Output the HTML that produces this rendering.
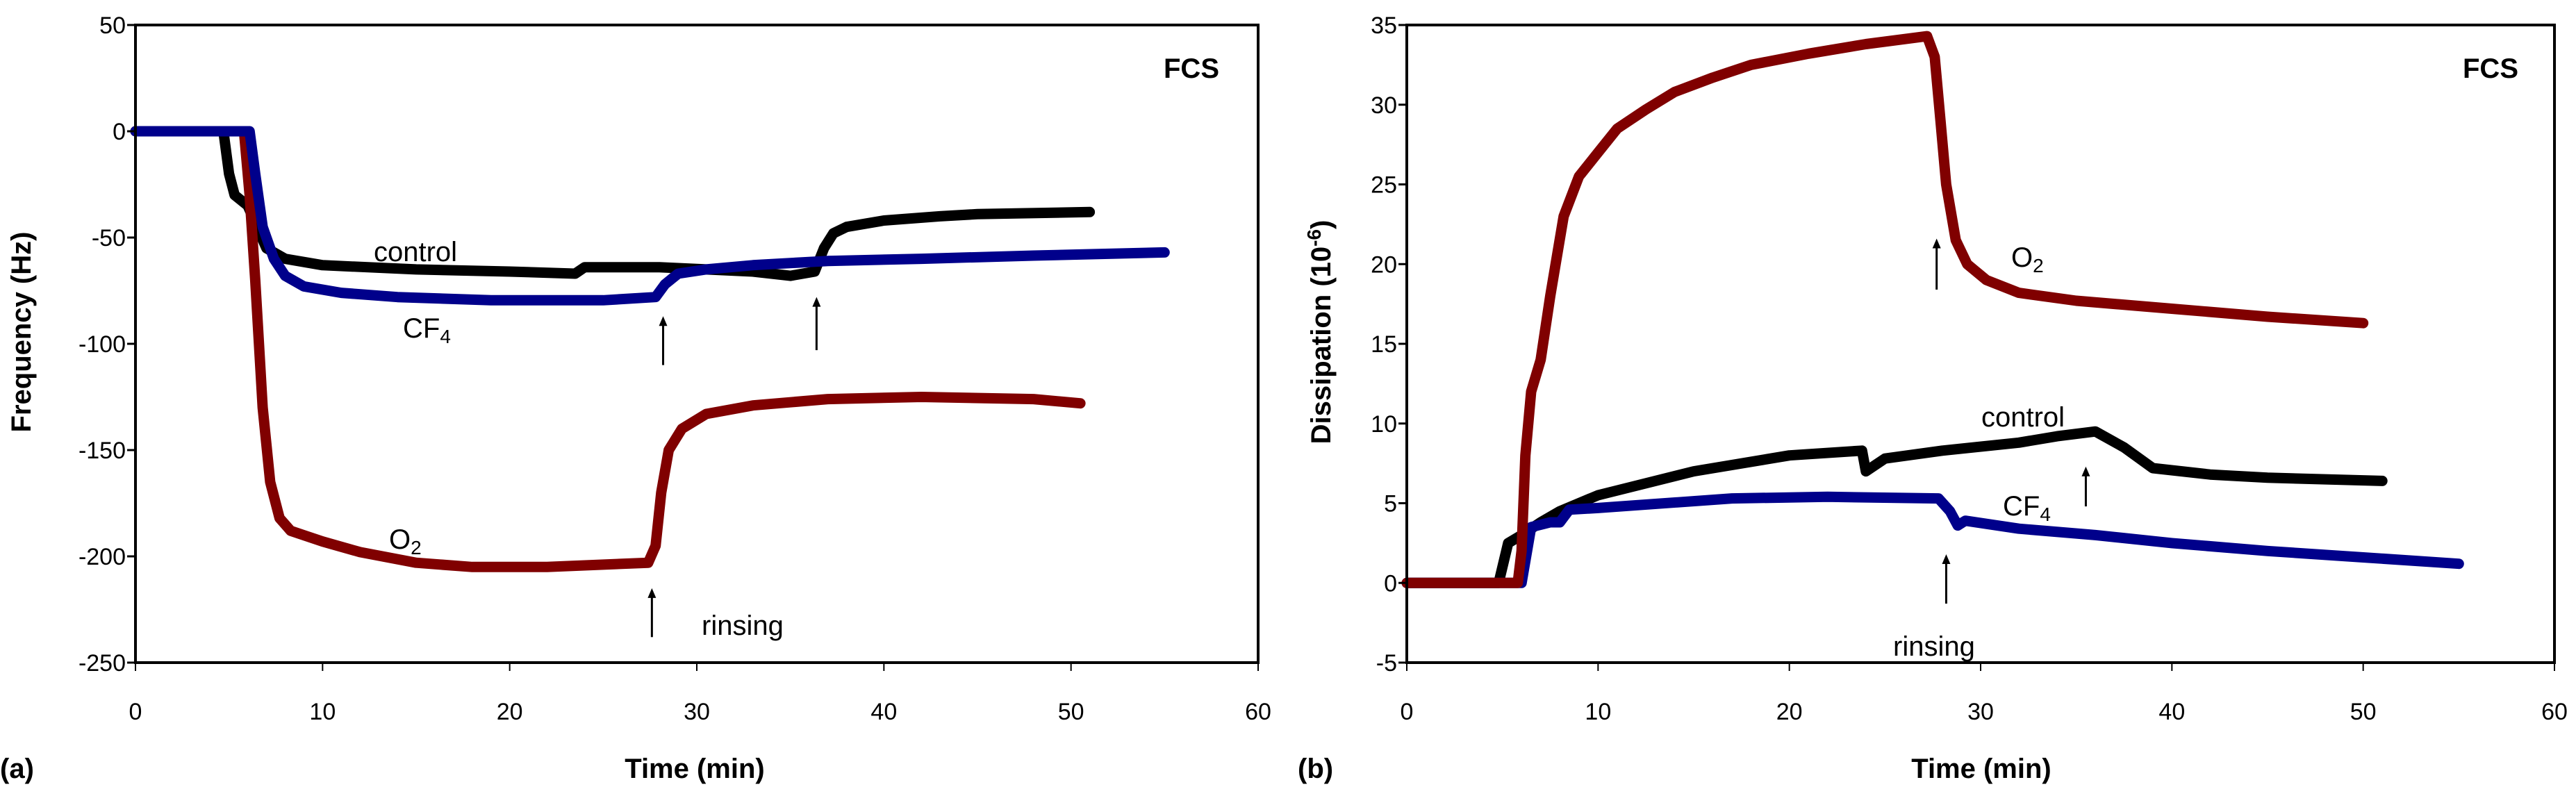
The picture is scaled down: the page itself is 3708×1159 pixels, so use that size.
<!DOCTYPE html>
<html><head><meta charset="utf-8"><style>
html,body{margin:0;padding:0;background:#fff;}
svg{display:block;}
text{font-family:"Liberation Sans Narrow","Liberation Sans",sans-serif;fill:#000;}
.b{font-weight:bold;}
</style></head><body>
<svg id="fig" width="3708" height="1159" viewBox="0 0 3708 1159" xmlns="http://www.w3.org/2000/svg"></svg>
<script>
// ---- Panel (a) data: Frequency (Hz) vs Time (min)
const aControlT=[0,4.7,5.0,5.3,6,6.5,7,8,10,15,20,23.5,24,28,33,35,36.3,36.8,37.3,38,40,43,45,51];
const aControlV=[0,0,-20,-30,-35,-45,-55,-60,-63,-65,-66,-67,-64,-64,-66,-68,-66,-55,-48,-45,-42,-40,-39,-38];
const aCF4T=[0,6.1,6.4,6.8,7.4,8,9,11,14,19,25,27.8,28.3,29,30.5,33,37,42,48,55];
const aCF4V=[0,0,-20,-45,-60,-68,-73,-76,-78,-79.5,-79.5,-78,-72,-67,-65,-63,-61,-60,-58.5,-57];
const aO2T=[0,5.8,6.1,6.4,6.8,7.2,7.7,8.3,10,12,15,18,22,27.4,27.8,28.1,28.5,29.2,30.5,33,37,42,48,50.5];
const aO2V=[0,0,-30,-70,-130,-165,-182,-188,-193,-198,-203,-205,-205,-203,-195,-170,-150,-140,-133,-129,-126,-125,-126,-128];
const aYTicks=[50,0,-50,-100,-150,-200,-250];
const aXTicks=[0,10,20,30,40,50,60];
// ---- Panel (b) data: Dissipation (1e-6) vs Time (min)
const bO2T=[0,5.8,6.0,6.2,6.5,7,7.5,8.2,9,10,11,12.5,14,16,18,21,24,27.2,27.6,27.9,28.2,28.7,29.3,30.3,32,35,40,45,50];
const bO2V=[0,0,2,8,12,14,18,23,25.5,27,28.5,29.7,30.8,31.7,32.5,33.2,33.8,34.3,33,29,25,21.5,20,19,18.2,17.7,17.2,16.7,16.3];
const bControlT=[0,4.8,5.3,6,7,8,10,15,20,23.8,24,25,28,32,34,36,37.5,39,42,45,51];
const bControlV=[0,0,2.5,3,3.8,4.5,5.5,7,8,8.3,7,7.8,8.3,8.8,9.2,9.5,8.5,7.2,6.8,6.6,6.4];
const bCF4T=[0,6,6.5,7.5,8,8.5,10,17,22,27.8,28.4,28.8,29.2,32,36,40,45,50,55];
const bCF4V=[0,0,3.5,3.8,3.8,4.6,4.7,5.3,5.4,5.3,4.5,3.6,3.9,3.4,3.0,2.5,2.0,1.6,1.2];
const bYTicks=[35,30,25,20,15,10,5,0,-5];
const bXTicks=[0,10,20,30,40,50,60];

const NS="http://www.w3.org/2000/svg";
const svg=document.getElementById('fig');
function mk(tag,attrs,parent){const e=document.createElementNS(NS,tag);for(const k in attrs)e.setAttribute(k,attrs[k]);(parent||svg).appendChild(e);return e;}

function panel(cfg){
  const g=mk('g',{});
  
  
  const X=t=>cfg.x0+(t-0)/60*(cfg.x1-cfg.x0);
  const Y=v=>cfg.y0+(cfg.ymax-v)/(cfg.ymax-cfg.ymin)*(cfg.y1-cfg.y0);
  cfg.series.forEach(s=>{
    const d=s.t.map((t,i)=>(i?'L':'M')+X(t).toFixed(1)+','+Y(s.v[i]).toFixed(1)).join('');
    const p=mk('path',{d:d,fill:'none',stroke:s.color,'stroke-width':15,'stroke-linejoin':'round','stroke-linecap':'round'},g);
    
    
  });
  const fr=mk('rect',{x:cfg.x0,y:cfg.y0,width:cfg.x1-cfg.x0,height:cfg.y1-cfg.y0,fill:'none',stroke:'#000','stroke-width':4},g);
  
  
  cfg.yticks.forEach(v=>{
    mk('line',{x1:cfg.x0-12,x2:cfg.x0,y1:Y(v),y2:Y(v),stroke:'#000','stroke-width':3},g);
    const t=mk('text',{x:cfg.x0-14,y:Y(v)+12,'text-anchor':'end','font-size':34},g);
    t.textContent=v;
    
    
  });
  cfg.xticks.forEach(v=>{
    mk('line',{x1:X(v),x2:X(v),y1:cfg.y1,y2:cfg.y1+12,stroke:'#000','stroke-width':2},g);
    const t=mk('text',{x:X(v),y:1036,'text-anchor':'middle','font-size':34},g);
    t.textContent=v;
    
    
  });
  cfg.arrows.forEach(a=>{
    const x=X(a[0]),yb=Y(a[1]),yt=Y(a[2]);
    mk('line',{x1:x,x2:x,y1:yb,y2:yt+12,stroke:'#000','stroke-width':3},g);
    const h=mk('polygon',{points:`${x-6},${yt+14} ${x+6},${yt+14} ${x},${yt}`,fill:'#000'},g);
    
    
  });
  return {X,Y,g};
}

const A=panel({name:'panel-a',x0:195,x1:1811,y0:36,y1:954,ymax:50,ymin:-250,yticks:aYTicks,xticks:aXTicks,
  series:[{name:'control-series',t:aControlT,v:aControlV,color:'#000'},
          {name:'o2-series',t:aO2T,v:aO2V,color:'#800000'},
          {name:'cf4-series',t:aCF4T,v:aCF4V,color:'#00008b'}],
  arrows:[[28.2,-110,-87],[36.4,-103,-78],[27.6,-238,-215]]});
const B=panel({name:'panel-b',x0:2025,x1:3677,y0:36,y1:954,ymax:35,ymin:-5,yticks:bYTicks,xticks:bXTicks,
  series:[{name:'control-series',t:bControlT,v:bControlV,color:'#000'},
          {name:'cf4-series',t:bCF4T,v:bCF4V,color:'#00008b'},
          {name:'o2-series',t:bO2T,v:bO2V,color:'#800000'}],
  arrows:[[27.7,18.4,21.6],[35.5,4.8,7.3],[28.2,-1.3,1.8]]});
</script>
<svg width="3708" height="1159" style="position:absolute;left:0;top:0" xmlns="http://www.w3.org/2000/svg">
<g font-size="40">
<text x="538" y="376">control</text>
<text x="580" y="486">CF<tspan font-size="28" dy="8">4</tspan></text>
<text x="560" y="790">O<tspan font-size="28" dy="8">2</tspan></text>
<text x="1010" y="914">rinsing</text>
<text x="2895" y="384">O<tspan font-size="28" dy="8">2</tspan></text>
<text x="2852" y="614">control</text>
<text x="2883" y="742">CF<tspan font-size="28" dy="8">4</tspan></text>
<text x="2725" y="944">rinsing</text>
</g>
<text x="1675" y="112" font-size="40" class="b">FCS</text>
<text x="3545" y="112" font-size="40" class="b">FCS</text>
<text x="0" y="1120" font-size="40" class="b">(a)</text>
<text x="1868" y="1120" font-size="40" class="b">(b)</text>
<text x="1000" y="1120" font-size="40" class="b" text-anchor="middle">Time (min)</text>
<text x="2852" y="1120" font-size="40" class="b" text-anchor="middle">Time (min)</text>
<text transform="translate(44,478) rotate(-90)" font-size="40" class="b" text-anchor="middle" style="font-family:'Liberation Sans',sans-serif">Frequency (Hz)</text>
<text transform="translate(1915,478) rotate(-90)" font-size="40" class="b" text-anchor="middle" style="font-family:'Liberation Sans',sans-serif">Dissipation (10<tspan font-size="28" dy="-14">-6</tspan><tspan dy="14">)</tspan></text>
</svg>
</body></html>
